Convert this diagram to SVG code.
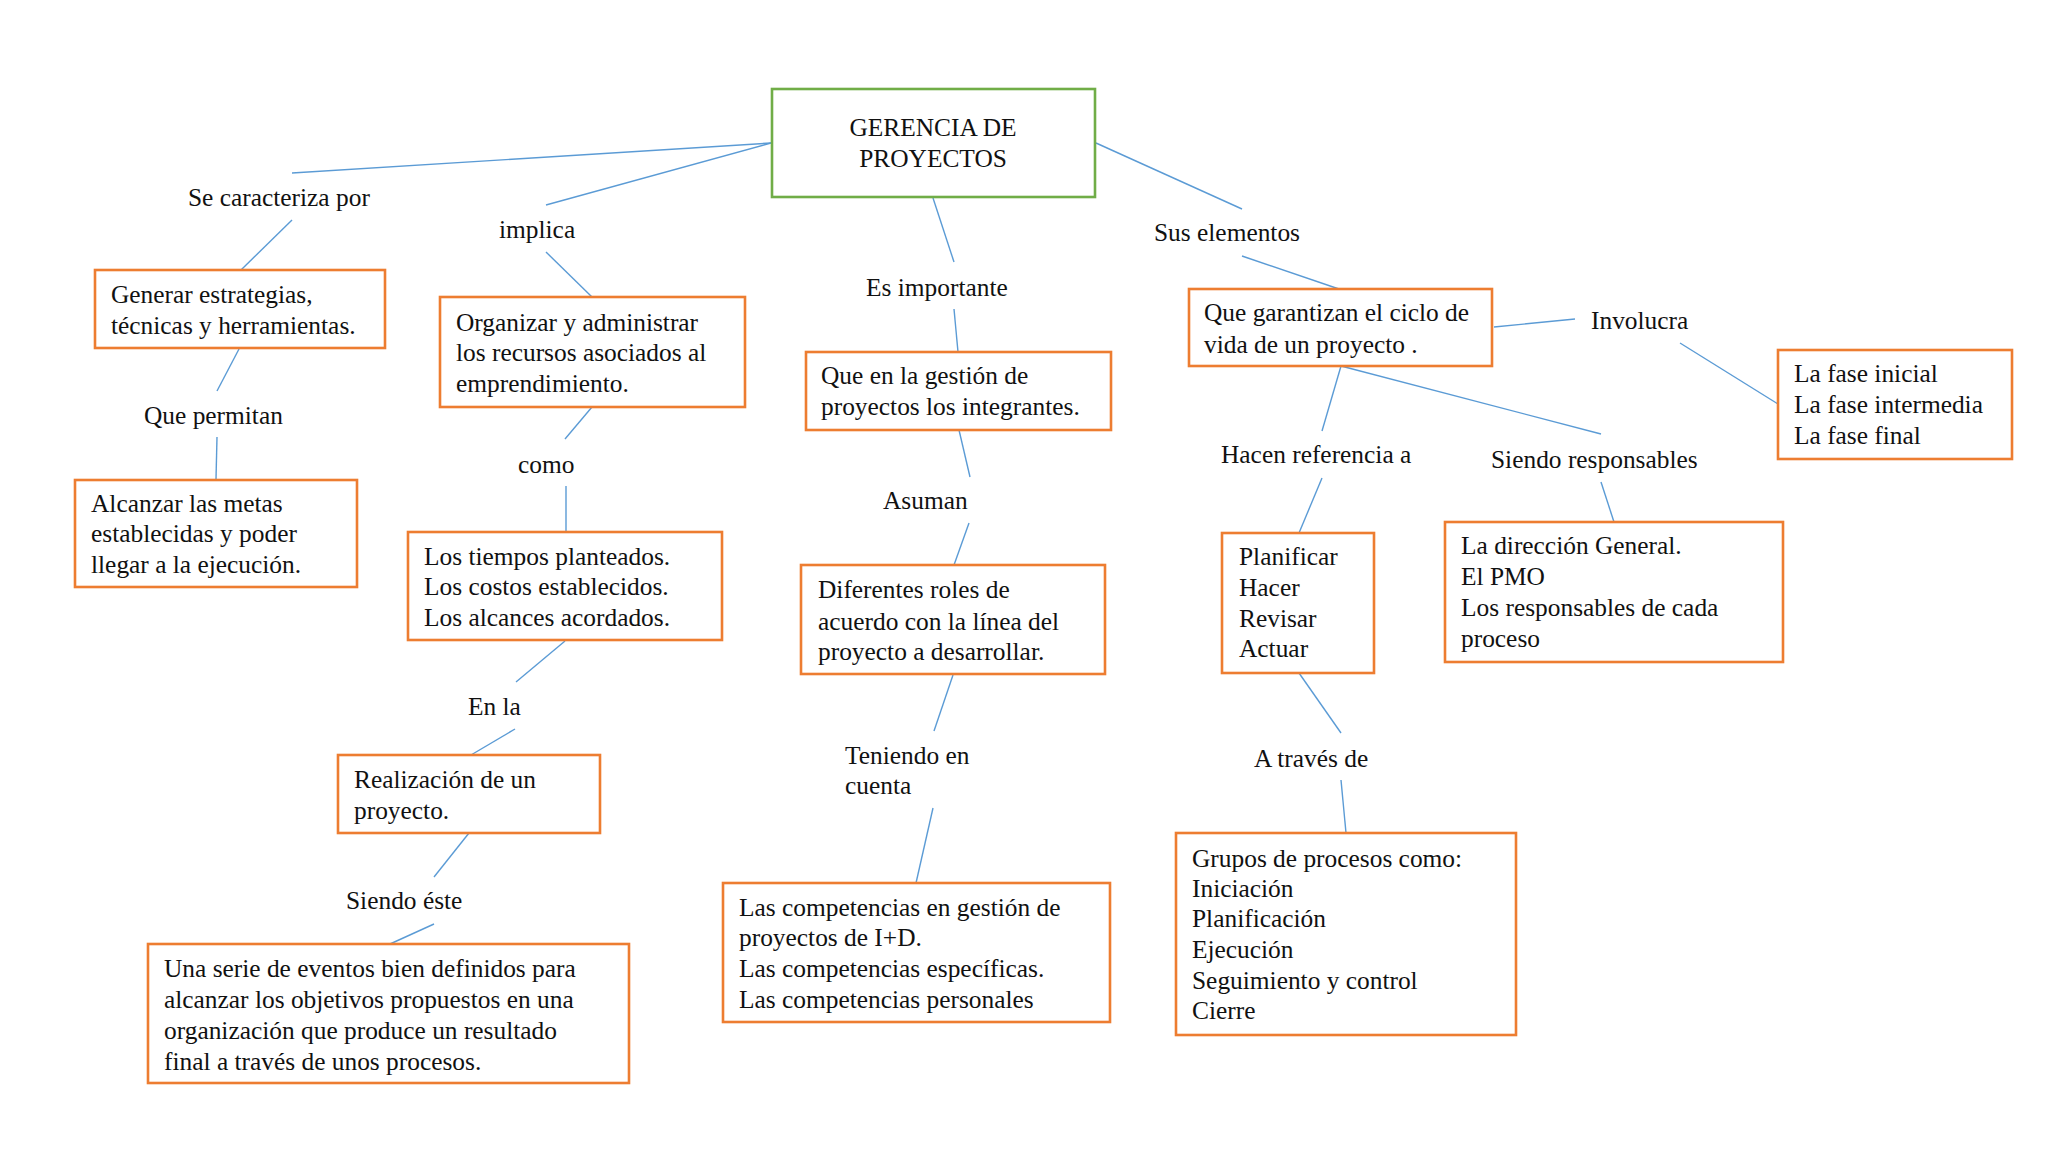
<svg xmlns="http://www.w3.org/2000/svg" width="2048" height="1152" viewBox="0 0 2048 1152">
<style>
text{font-family:"Liberation Serif","Times New Roman",serif;font-size:25.4px;fill:#111;}
.box{fill:#fff;stroke:#ED7D31;stroke-width:2.6;}
.root{fill:#fff;stroke:#70AD47;stroke-width:2.6;}
.c line{stroke:#5B9BD5;stroke-width:1.4;}
</style>
<rect width="2048" height="1152" fill="#fff"/>
<g class="c" id="connectors">
<line x1="771" y1="143" x2="292" y2="173"/>
<line x1="771" y1="143" x2="546" y2="205"/>
<line x1="292" y1="220" x2="241" y2="270"/>
<line x1="546" y1="252" x2="592" y2="297"/>
<line x1="239" y1="349" x2="217" y2="391"/>
<line x1="217" y1="437" x2="216" y2="479"/>
<line x1="592" y1="407" x2="565" y2="439"/>
<line x1="566" y1="486" x2="566" y2="532"/>
<line x1="565" y1="641" x2="516" y2="682"/>
<line x1="515" y1="729" x2="471" y2="755"/>
<line x1="469" y1="833" x2="434" y2="877"/>
<line x1="434" y1="924" x2="390" y2="944"/>
<line x1="933" y1="198" x2="954" y2="262"/>
<line x1="954" y1="309" x2="958" y2="352"/>
<line x1="959" y1="430" x2="970" y2="477"/>
<line x1="969" y1="523" x2="954" y2="565"/>
<line x1="953" y1="675" x2="934" y2="731"/>
<line x1="933" y1="808" x2="916" y2="883"/>
<line x1="1096" y1="143" x2="1242" y2="209"/>
<line x1="1242" y1="256" x2="1339" y2="289"/>
<line x1="1494" y1="327" x2="1575" y2="319"/>
<line x1="1680" y1="343" x2="1778" y2="404"/>
<line x1="1341" y1="366" x2="1322" y2="431"/>
<line x1="1341" y1="366" x2="1601" y2="434"/>
<line x1="1322" y1="478" x2="1299" y2="533"/>
<line x1="1601" y1="482" x2="1614" y2="522"/>
<line x1="1299" y1="673" x2="1341" y2="733"/>
<line x1="1341" y1="780" x2="1346" y2="833"/>
</g>
<g id="labels">
<text x="188" y="206">Se caracteriza por</text>
<text x="499" y="238">implica</text>
<text x="866" y="296">Es importante</text>
<text x="1154" y="241">Sus elementos</text>
<text x="1591" y="329">Involucra</text>
<text x="144" y="424">Que permitan</text>
<text x="518" y="473">como</text>
<text x="883" y="509">Asuman</text>
<text x="1221" y="463">Hacen referencia a</text>
<text x="1491" y="468">Siendo responsables</text>
<text x="468" y="715">En la</text>
<text x="346" y="909">Siendo éste</text>
<text x="845" y="764">Teniendo en</text>
<text x="845" y="794">cuenta</text>
<text x="1254" y="767">A través de</text>
</g>
<g id="root">
<rect class="root" x="772" y="89" width="323" height="108"/>
<text x="933" y="136" text-anchor="middle">GERENCIA DE</text>
<text x="933" y="167" text-anchor="middle">PROYECTOS</text>
</g>
<g id="nA">
<rect class="box" x="95" y="270" width="290" height="78"/>
<text x="111" y="303">Generar estrategias,</text>
<text x="111" y="334">técnicas y herramientas.</text>
</g>
<g id="nB">
<rect class="box" x="75" y="480" width="282" height="107"/>
<text x="91" y="512">Alcanzar las metas</text>
<text x="91" y="542">establecidas y poder</text>
<text x="91" y="573">llegar a la ejecución.</text>
</g>
<g id="nC">
<rect class="box" x="440" y="297" width="305" height="110"/>
<text x="456" y="331">Organizar y administrar</text>
<text x="456" y="361">los recursos asociados al</text>
<text x="456" y="392">emprendimiento.</text>
</g>
<g id="nD">
<rect class="box" x="408" y="532" width="314" height="108"/>
<text x="424" y="565">Los tiempos planteados.</text>
<text x="424" y="595">Los costos establecidos.</text>
<text x="424" y="626">Los alcances acordados.</text>
</g>
<g id="nE">
<rect class="box" x="338" y="755" width="262" height="78"/>
<text x="354" y="788">Realización de un</text>
<text x="354" y="819">proyecto.</text>
</g>
<g id="nF">
<rect class="box" x="148" y="944" width="481" height="139"/>
<text x="164" y="977">Una serie de eventos bien definidos para</text>
<text x="164" y="1008">alcanzar los objetivos propuestos en una</text>
<text x="164" y="1039">organización que produce un resultado</text>
<text x="164" y="1070">final a través de unos procesos.</text>
</g>
<g id="nG">
<rect class="box" x="806" y="352" width="305" height="78"/>
<text x="821" y="384">Que en la gestión de</text>
<text x="821" y="415">proyectos los integrantes.</text>
</g>
<g id="nH">
<rect class="box" x="801" y="565" width="304" height="109"/>
<text x="818" y="598">Diferentes roles de</text>
<text x="818" y="630">acuerdo con la línea del</text>
<text x="818" y="660">proyecto a desarrollar.</text>
</g>
<g id="nI">
<rect class="box" x="723" y="883" width="387" height="139"/>
<text x="739" y="916">Las competencias en gestión de</text>
<text x="739" y="946">proyectos de I+D.</text>
<text x="739" y="977">Las competencias específicas.</text>
<text x="739" y="1008">Las competencias personales</text>
</g>
<g id="nJ">
<rect class="box" x="1189" y="289" width="303" height="77"/>
<text x="1204" y="321">Que garantizan el ciclo de</text>
<text x="1204" y="353">vida de un proyecto .</text>
</g>
<g id="nK">
<rect class="box" x="1778" y="350" width="234" height="109"/>
<text x="1794" y="382">La fase inicial</text>
<text x="1794" y="413">La fase intermedia</text>
<text x="1794" y="444">La fase final</text>
</g>
<g id="nL">
<rect class="box" x="1222" y="533" width="152" height="140"/>
<text x="1239" y="565">Planificar</text>
<text x="1239" y="596">Hacer</text>
<text x="1239" y="627">Revisar</text>
<text x="1239" y="657">Actuar</text>
</g>
<g id="nM">
<rect class="box" x="1445" y="522" width="338" height="140"/>
<text x="1461" y="554">La dirección General.</text>
<text x="1461" y="585">El PMO</text>
<text x="1461" y="616">Los responsables de cada</text>
<text x="1461" y="647">proceso</text>
</g>
<g id="nN">
<rect class="box" x="1176" y="833" width="340" height="202"/>
<text x="1192" y="867">Grupos de procesos como:</text>
<text x="1192" y="897">Iniciación</text>
<text x="1192" y="927">Planificación</text>
<text x="1192" y="958">Ejecución</text>
<text x="1192" y="989">Seguimiento y control</text>
<text x="1192" y="1019">Cierre</text>
</g>
</svg>
